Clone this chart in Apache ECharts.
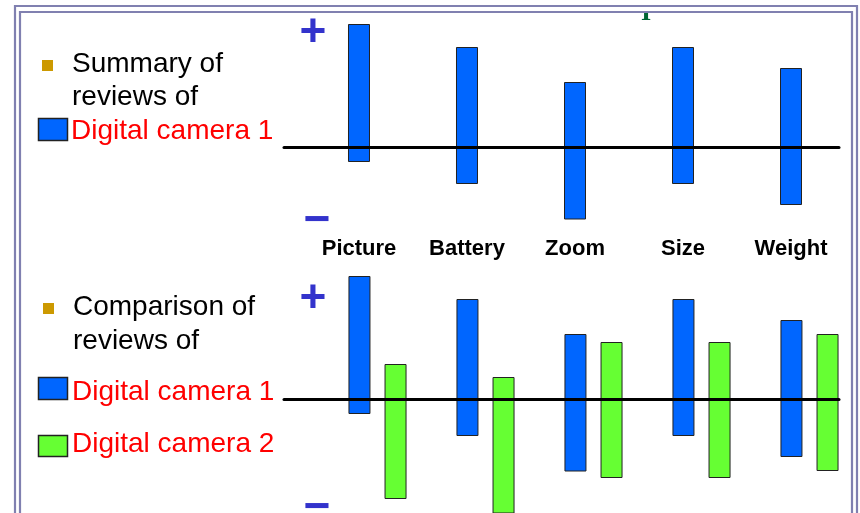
<!DOCTYPE html>
<html><head><meta charset="utf-8">
<script src="https://cdn.jsdelivr.net/npm/echarts@6/dist/echarts.min.js"></script>
<style>html,body{margin:0;padding:0;background:#fff}#c{width:860px;height:513px}</style>
</head><body><div id="c"></div>
<script>
// ---- data ----
const categories = ['Picture', 'Battery', 'Zoom', 'Size', 'Weight'];
const camera1Positive = [12.3, 10.0, 6.5, 10.0, 7.9];
const camera1Negative = [-1.5, -3.7, -7.25, -3.7, -5.8];
const camera2Positive = [3.5, 2.2, 5.7, 5.7, 6.5];
const camera2Negative = [-10.0, -12.5, -7.9, -7.9, -7.2];
const camera1Name = 'Digital camera 1';
const camera2Name = 'Digital camera 2';
const summaryLines = ['Summary of', 'reviews of'];
const comparisonLines = ['Comparison of', 'reviews of'];

// ---- styling ----
const FONT = '"Liberation Sans", Arial, sans-serif';
const BLUE = '#0066FF', GREEN = '#66FF33', EDGE = '#222222';
const catIdx = categories.map((_, i) => i);

function barSeries(name, vals, xi, yi, stack, color) {
  return {
    type: 'bar', name, xAxisIndex: xi, yAxisIndex: yi, stack,
    data: vals.map((v, i) => [i, v]),
    barWidth: 22, barGap: '64%',
    itemStyle: { color, borderColor: EDGE, borderWidth: 1 },
    silent: true, animation: false
  };
}
function zeroAxis(gridIndex, min, max) {
  return {
    type: 'value', gridIndex, min, max, position: 'bottom', z: 5,
    axisLine: { show: true, onZero: true, lineStyle: { color: '#000', width: 3 } },
    axisTick: { show: false }, axisLabel: { show: false }, splitLine: { show: false }
  };
}
const topMin = -0.6944, topMax = 4.4444;
const botMin = -0.8657, botMax = 4.2731;

const textEl = (txt, x, y, size, color, weight, align) => ({
  type: 'text', x, y, z: 20,
  style: { text: txt, fill: color, fontSize: size, fontFamily: FONT, fontWeight: weight || 'normal',
    align: align || 'left', textAlign: align || 'left', verticalAlign: 'middle', textVerticalAlign: 'middle' }
});
const box = (x, y, w, h, fill, stroke, lw) => ({
  type: 'rect', z: 20, shape: { x, y, width: w, height: h },
  style: { fill, stroke: stroke || null, lineWidth: lw || 0 }
});

const graphics = [
  // partial glyph from a title above
  { type: 'text', x: 646, y: 26, z: 18, style: { text: 'I', fill: '#006633', fontSize: 26, fontFamily: '"Liberation Serif", serif', fontWeight: 'bold', align: 'center', textAlign: 'center', verticalAlign: 'bottom', textVerticalAlign: 'bottom' } },
  box(600, 0, 100, 12, '#fff'),
  // frame
  { type: 'rect', z: 30, shape: { x: 15, y: 6, width: 842, height: 600 }, style: { fill: null, stroke: '#8080B0', lineWidth: 2.2 } },
  { type: 'rect', z: 30, shape: { x: 20, y: 12, width: 832, height: 600 }, style: { fill: null, stroke: '#8080B0', lineWidth: 2.2 } },
  // top panel texts
  box(42, 60, 11, 11, '#CC9900'),
  textEl(summaryLines[0], 72, 64, 28, '#000'),
  textEl(summaryLines[1], 72, 97, 28, '#000'),
  box(38.5, 118.5, 29, 22, BLUE, EDGE, 1.5),
  textEl(camera1Name, 71, 131, 28, '#FF0000'),
  // bottom panel texts
  box(43, 303, 11, 11, '#CC9900'),
  textEl(comparisonLines[0], 73, 307, 28, '#000'),
  textEl(comparisonLines[1], 73, 341, 28, '#000'),
  box(38.5, 377.5, 29, 22, BLUE, EDGE, 1.5),
  textEl(camera1Name, 72, 392, 28, '#FF0000'),
  box(38.5, 435.5, 29, 21, GREEN, EDGE, 1.5),
  textEl(camera2Name, 72, 444, 28, '#FF0000'),
  // plus / minus signs
  textEl('+', 313, 33, 46, '#3333CC', 'bold', 'center'),
  textEl('\u2212', 317, 221, 46, '#3333CC', 'bold', 'center'),
  textEl('+', 313, 299, 46, '#3333CC', 'bold', 'center'),
  textEl('\u2212', 317, 508, 46, '#3333CC', 'bold', 'center')
];

const option = {
  backgroundColor: '#fff',
  animation: false,
  grid: [
    { left: 284, width: 555, top: 20, height: 215 },
    { left: 284, width: 555, top: 270, height: 243 }
  ],
  xAxis: [
    zeroAxis(0, topMin, topMax),
    {
      type: 'value', gridIndex: 0, min: topMin, max: topMax, position: 'bottom',
      axisLine: { show: false, onZero: false }, axisTick: { show: false }, splitLine: { show: false },
      axisLabel: { show: true, customValues: catIdx, formatter: v => categories[Math.round(v)] || '',
        fontSize: 22, fontWeight: 'bold', fontFamily: FONT, color: '#000', margin: 3 }
    },
    zeroAxis(1, botMin, botMax)
  ],
  yAxis: [
    { type: 'value', gridIndex: 0, min: -8.8, max: 12.7, show: false },
    { type: 'value', gridIndex: 1, min: -11.4, max: 12.9, show: false }
  ],
  series: [
    barSeries('c1p', camera1Positive, 0, 0, 'top1', BLUE),
    barSeries('c1n', camera1Negative, 0, 0, 'top1', BLUE),
    barSeries('c1p', camera1Positive, 2, 1, 'b1', BLUE),
    barSeries('c1n', camera1Negative, 2, 1, 'b1', BLUE),
    barSeries('c2p', camera2Positive, 2, 1, 'b2', GREEN),
    barSeries('c2n', camera2Negative, 2, 1, 'b2', GREEN)
  ],
  graphic: graphics
};
const chart = echarts.init(document.getElementById('c'), null, { renderer: 'canvas' });
chart.setOption(option);
</script></body></html>
